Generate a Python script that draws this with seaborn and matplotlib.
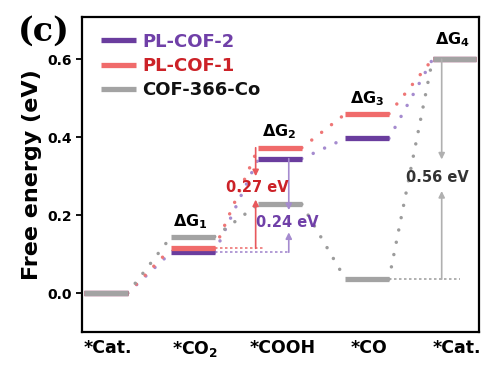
import pandas as pd
import matplotlib.pyplot as plt
import seaborn as sns
import numpy as np

# Free energy levels for each step
steps = ["*Cat.", "*CO$_\\mathbf{2}$", "*COOH", "*CO", "*Cat."]
pl_cof2 = [0.0, 0.105, 0.345, 0.397, 0.60]
pl_cof1 = [0.0, 0.115, 0.373, 0.460, 0.60]
cof366 = [0.0, 0.145, 0.228, 0.036, 0.60]
series_names = ["PL-COF-2", "PL-COF-1", "COF-366-Co"]
dg_labels = ["$\\Delta$G$_\\mathbf{1}$", "$\\Delta$G$_\\mathbf{2}$", "$\\Delta$G$_\\mathbf{3}$", "$\\Delta$G$_\\mathbf{4}$"]

colors = {"PL-COF-2": "#6a3d9e", "PL-COF-1": "#f06b6b", "COF-366-Co": "#a3a3a3"}
dot_colors = {"PL-COF-2": "#a58bcf", "PL-COF-1": "#ee7676", "COF-366-Co": "#9c9c9c"}
text_colors = {"PL-COF-2": "#7040a8", "PL-COF-1": "#cc2228", "COF-366-Co": "#111111"}

sns.set_style("ticks")
plt.rcParams["font.family"] = ["DejaVu Sans"]
plt.rcParams["font.weight"] = "bold"
plt.rcParams["text.color"] = "black"
plt.rcParams["axes.labelcolor"] = "black"
plt.rcParams["xtick.color"] = "black"
plt.rcParams["ytick.color"] = "black"
plt.rcParams["mathtext.fontset"] = "custom"
plt.rcParams["mathtext.rm"] = "DejaVu Sans:bold"
plt.rcParams["mathtext.bf"] = "DejaVu Sans:bold"
plt.rcParams["mathtext.it"] = "DejaVu Sans:bold"

levels = {"PL-COF-2": pl_cof2, "PL-COF-1": pl_cof1, "COF-366-Co": cof366}

# long table: bars span [2i, 2i+1], connectors go from 2i+1 to 2i+2
rows = []
for name in series_names:
    vals = levels[name]
    for i in range(len(vals) - 1):
        rows.append({"series": name, "seg": i, "x": 2 * i + 1, "G": vals[i]})
        rows.append({"series": name, "seg": i, "x": 2 * i + 2, "G": vals[i + 1]})
conn = pd.DataFrame(rows)

fig = plt.figure(figsize=(4.91, 3.72), dpi=100)
ax = fig.add_axes([0.167, 0.107, 0.808, 0.847])

# dotted connectors
for name in series_names:
    for seg, d in conn[conn.series == name].groupby("seg"):
        sns.lineplot(data=d, x="x", y="G", ax=ax, color=dot_colors[name],
                     lw=2.5, linestyle=(0, (0.01, 3.6)), dash_capstyle="round",
                     legend=False, estimator=None)

# energy level bars
for name in series_names:
    vals = levels[name]
    xs = np.arange(len(vals)) * 2
    ax.hlines(vals, xs, xs + 1, color=colors[name], lw=3.8, label=name, zorder=3)

# horizontal dotted reference lines
ax.hlines(pl_cof1[1], 3, 4.1, color=dot_colors["PL-COF-1"], lw=1.2, linestyle=(0, (1.5, 1.5)))
ax.hlines(pl_cof2[1], 3, 4.7, color=dot_colors["PL-COF-2"], lw=1.2, linestyle=(0, (1.5, 1.5)))
ax.hlines(cof366[3], 7, 8.62, color="#a3a3a3", lw=1.2, linestyle=(0, (1.5, 1.5)))

# arrows: lower part points up, upper part points down
def split_arrow(x, y_lo, y_hi, head_lo, head_hi, color):
    ax.annotate("", xy=(x, head_lo), xytext=(x, y_lo),
                arrowprops=dict(arrowstyle="-|>", color=color, lw=1.2, mutation_scale=9,
                                shrinkA=0, shrinkB=0))
    ax.annotate("", xy=(x, head_hi), xytext=(x, y_hi),
                arrowprops=dict(arrowstyle="-|>", color=color, lw=1.2, mutation_scale=9,
                                shrinkA=0, shrinkB=0))

split_arrow(3.94, pl_cof1[1], pl_cof1[2], 0.24, 0.30, "#e8585c")
split_arrow(4.70, pl_cof2[1], pl_cof2[2], 0.156, 0.213, "#a58bcf")
split_arrow(8.21, cof366[3], cof366[4], 0.262, 0.343, "#b0b0b0")

ax.text(3.97, 0.272, "0.27 eV", color="#cc2228", ha="center", va="center", fontsize=10.5,
        fontweight="bold", zorder=5)
ax.text(4.66, 0.182, "0.24 eV", color="#7040a8", ha="center", va="center", fontsize=10.5,
        fontweight="bold", zorder=5)
ax.text(8.10, 0.297, "0.56 eV", color="#333333", ha="center", va="center", fontsize=10.5,
        fontweight="bold", zorder=5)

# delta G labels
dg_pos = [(2.45, 0.183), (4.47, 0.414), (6.49, 0.50), (8.46, 0.65)]
for lab, (x, y) in zip(dg_labels, dg_pos):
    ax.text(x, y, lab, ha="center", va="center", fontsize=11.5, fontweight="bold")

ax.set_xlim(-0.046, 9.06)
ax.set_ylim(-0.1, 0.708)
ax.set_xticks(np.arange(len(steps)) * 2 + 0.55)
ax.set_xticklabels(steps, fontsize=12.5, fontweight="bold")
ax.tick_params(axis="x", length=0, pad=5)
ax.set_yticks([0.0, 0.2, 0.4, 0.6])
ax.set_yticklabels(["0.0", "0.2", "0.4", "0.6"], fontsize=10, fontweight="bold")
ax.tick_params(axis="y", length=4, width=1.3, pad=3)
ax.set_xlabel("")
ax.set_ylabel("Free energy (eV)", fontsize=16, fontweight="bold", labelpad=4)
for s in ax.spines.values():
    s.set_linewidth(1.6)
    s.set_color("black")

leg = ax.legend(loc="upper left", bbox_to_anchor=(0.02, 0.985), frameon=False, fontsize=13,
                handlelength=1.95, handletextpad=0.35, labelspacing=0.35, borderaxespad=0.2)
for line in leg.get_lines():
    line.set_linewidth(3.8)
for t in leg.get_texts():
    t.set_color(text_colors[t.get_text()])
    t.set_fontweight("bold")

fig.text(0.09, 0.917, "(c)", fontsize=24, fontweight="bold", family="DejaVu Serif",
         ha="center", va="center")

plt.savefig("out.png", dpi=100)
